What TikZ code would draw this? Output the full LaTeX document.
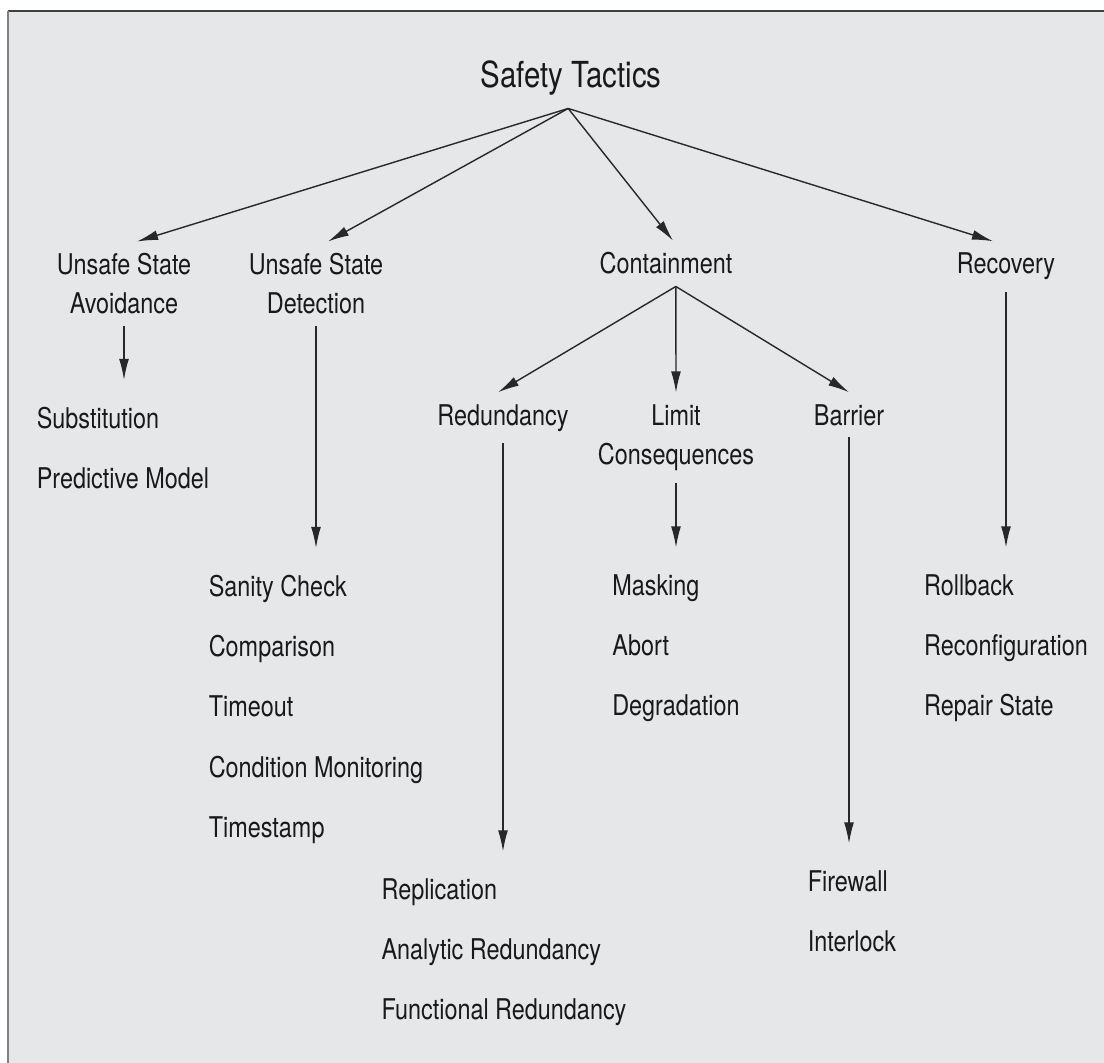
\documentclass[tikz,border=0pt]{standalone}
\usepackage{fontspec}
\setmainfont{TeX Gyre Heros}[FakeStretch=0.82]
\usetikzlibrary{arrows.meta,positioning}
\definecolor{PanelColor}{RGB}{230,231,232}
\definecolor{InkColor}{RGB}{25,25,25}
\definecolor{LineColor}{RGB}{40,40,40}

\begin{document}
\begin{tikzpicture}[x=0.025cm, y=-0.025cm, >={Latex[length=15pt,width=7pt]},
    labeltext/.style={inner sep=0pt, text=InkColor},
    headnode/.style={labeltext, outer ysep=9pt, font=\fontsize{25.5}{30}\selectfont},
    tactic/.style={labeltext, outer ysep=8.5pt, align=center, font=\fontsize{20.3}{27.8}\selectfont},
    tacticlist/.style={labeltext, outer ysep=19pt, align=left, font=\fontsize{20.3}{43}\selectfont},
    link/.style={->, line width=1pt, draw=LineColor}]
  \useasboundingbox (0,0) rectangle (1104,1063);
  % panel
  \fill[PanelColor] (8,11) rectangle (1104,1063);
  \draw[line width=1.4pt, black!75] (8,11) -- (1104,11);
  \draw[line width=1pt, black!50] (8,11) -- (8,1063);

  \node[headnode, anchor=base] (root) at (571,88) {Safety Tactics};

  \node[tactic, anchor=north] (avoid) at (124,241.5) {Unsafe State\\Avoidance};
  \node[tactic, anchor=north] (detect) at (316,241.5) {Unsafe State\\Detection};
  \node[tactic, anchor=base] (contain) at (666,274) {Containment};
  \node[tactic, anchor=base] (recover) at (1006,274) {Recovery};

  \node[tactic, anchor=base] (redund) at (503,425) {Redundancy};
  \node[tactic, anchor=north] (limit) at (676,392.5) {Limit\\Consequences};
  \node[tactic, anchor=base] (barrier) at (849,425) {Barrier};

  % leaf lists
  \node[tacticlist, anchor=north] (list-avoid) at (123,380) {Substitution\\Predictive Model};
  \node[tacticlist, anchor=north] (list-detect) at (316,548) {Sanity Check\\Comparison\\Timeout\\Condition Monitoring\\Timestamp};
  \node[tacticlist, anchor=north] (list-redund) at (504,851.5) {Replication\\Analytic Redundancy\\Functional Redundancy};
  \node[tacticlist, anchor=north] (list-limit) at (676,547.5) {Masking\\Abort\\Degradation};
  \node[tacticlist, anchor=north] (list-barrier) at (852,843.5) {Firewall\\Interlock};
  \node[tacticlist, anchor=north] (list-recover) at (1006,547.5) {Rollback\\Reconfiguration\\Repair State};

  \draw[link] ([xshift=-2pt]root.south) -- ([xshift=9.25pt]avoid.north);
  \draw[link] ([xshift=-2pt]root.south) -- ([xshift=8.5pt]detect.north);
  \draw[link] ([xshift=-2pt]root.south) -- ([xshift=5pt]contain.north);
  \draw[link] ([xshift=-2pt]root.south) -- ([xshift=-9.25pt]recover.north);

  \draw[link] ([xshift=7pt]contain.south) -- ([xshift=-3.5pt]redund.north);
  \draw[link] ([xshift=7pt]contain.south) -- (limit.north);
  \draw[link] ([xshift=7pt]contain.south) -- (barrier.north);

  \foreach \nm in {avoid,detect,redund,limit,barrier,recover}
    \draw[link] (\nm.south) -- (\nm.south |- list-\nm.north);
\end{tikzpicture}
\end{document}
